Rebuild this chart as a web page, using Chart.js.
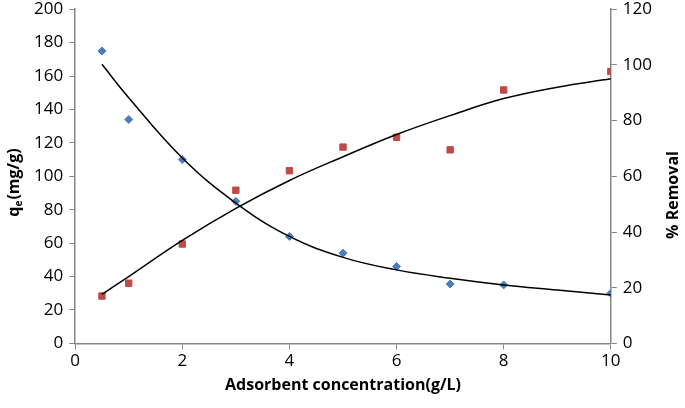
<!DOCTYPE html>
<html>
<head>
<meta charset="utf-8">
<script src="https://cdn.jsdelivr.net/npm/chart.js@4/dist/chart.umd.min.js"></script>
<style>
  html, body { margin: 0; padding: 0; background: #fff; overflow: hidden; }
  #wrap { width: 685px; height: 415px; margin-top: -7px; }
</style>
</head>
<body>
<div id="wrap"><canvas id="c"></canvas></div>
<script>
// measured points
const doseX = [0.5, 1, 2, 3, 4, 5, 6, 7, 8, 10];
const qeVals = [175, 134, 110, 85, 64, 54, 46, 35.5, 35, 30];
const removalVals = [17, 21.6, 35.7, 55, 62, 70.5, 74, 69.5, 91, 97.6];

// trend curves
const trendX = [0.5, 1, 2, 3, 4, 5, 6, 7, 8, 9, 10];
const qeTrend = [167, 147, 111, 84, 64, 51.5, 44, 39, 35, 32, 29];
const removalTrend = [17.6, 24, 37, 48.5, 58.5, 67, 75, 81.8, 87.9, 92, 95];

const xTicks = [0, 2, 4, 6, 8, 10];

const pts = (xs, ys) => xs.map((x, i) => ({ x: x, y: ys[i] }));

const axisGrey = '#868686';
const fontFam = '"Open Sans", Lato, sans-serif';

// side titles drawn by hand: left one has a subscript, both read bottom-to-top
// (canvas is shifted up 7px, so y positions here are +7)
const sideTitles = {
    id: 'sideTitles',
    afterDraw(chart) {
        const ctx = chart.ctx;
        const big = 'bold 16px ' + fontFam;
        const small = 'bold 10px ' + fontFam;
        ctx.save();
        ctx.fillStyle = '#000';
        ctx.textBaseline = 'middle';
        // left
        ctx.save();
        ctx.translate(14, 190);
        ctx.rotate(-Math.PI / 2);
        ctx.font = big;
        const w1 = ctx.measureText('q').width;
        const w3 = ctx.measureText('(mg/g)').width;
        ctx.font = small;
        const w2 = ctx.measureText('e').width;
        let x = -(w1 + w2 + w3) / 2;
        ctx.font = big;
        ctx.fillText('q', x, 0);
        x += w1;
        ctx.font = small;
        ctx.fillText('e', x, 5);
        x += w2 + 1;
        ctx.font = big;
        ctx.fillText('(mg/g)', x, 0);
        ctx.restore();
        // right
        ctx.save();
        ctx.translate(673, 202);
        ctx.rotate(-Math.PI / 2);
        ctx.font = big;
        ctx.textAlign = 'center';
        ctx.fillText('% Removal', 0, 0);
        ctx.restore();
        ctx.restore();
    }
};

new Chart(document.getElementById('c'), {
    type: 'scatter',
    data: {
        datasets: [
            {
                label: 'qe',
                data: pts(doseX, qeVals),
                yAxisID: 'y',
                pointStyle: 'rectRot',
                pointRadius: 4,
                backgroundColor: '#4a7ebb',
                borderColor: '#4a7ebb',
                order: 2
            },
            {
                label: '% Removal',
                data: pts(doseX, removalVals),
                yAxisID: 'y2',
                pointStyle: 'rect',
                pointRadius: 4.5,
                backgroundColor: '#be4b48',
                borderColor: '#be4b48',
                order: 2
            },
            {
                label: 'qe trend',
                data: pts(trendX, qeTrend),
                yAxisID: 'y',
                showLine: true,
                pointRadius: 0,
                borderColor: '#000',
                borderWidth: 1.5,
                tension: 0.4,
                order: 1
            },
            {
                label: 'removal trend',
                data: pts(trendX, removalTrend),
                yAxisID: 'y2',
                showLine: true,
                pointRadius: 0,
                borderColor: '#000',
                borderWidth: 1.5,
                tension: 0.4,
                order: 1
            }
        ]
    },
    options: {
        responsive: true,
        maintainAspectRatio: false,
        animation: false,
        layout: { padding: { top: 0, left: 28, right: 27, bottom: 13 } },
        plugins: {
            legend: { display: false },
            tooltip: { enabled: false }
        },
        scales: {
            x: {
                type: 'linear',
                min: 0, max: 10,
                afterBuildTicks: (s) => { s.ticks = xTicks.map(v => ({ value: v })); },
                border: { color: axisGrey, width: 1.5 },
                grid: { drawOnChartArea: false, color: axisGrey, tickLength: 6 },
                ticks: { color: '#000', font: { family: fontFam, size: 17 }, padding: 2 },
                title: {
                    display: true,
                    text: 'Adsorbent concentration(g/L)',
                    color: '#000',
                    font: { family: fontFam, size: 16, weight: 'bold' },
                    padding: { top: 2, bottom: 0 }
                }
            },
            y: {
                position: 'left',
                min: 0, max: 200,
                ticks: { stepSize: 20, color: '#000', font: { family: fontFam, size: 17 }, padding: 6 },
                border: { color: axisGrey, width: 1.5 },
                grid: { drawOnChartArea: false, color: axisGrey, tickLength: 6 }
            },
            y2: {
                position: 'right',
                min: 0, max: 120,
                ticks: { stepSize: 20, color: '#000', font: { family: fontFam, size: 17 }, padding: 6 },
                border: { color: axisGrey, width: 1.5 },
                grid: { drawOnChartArea: false, color: axisGrey, tickLength: 6 }
            }
        }
    },
    plugins: [sideTitles]
});
</script>
</body>
</html>
